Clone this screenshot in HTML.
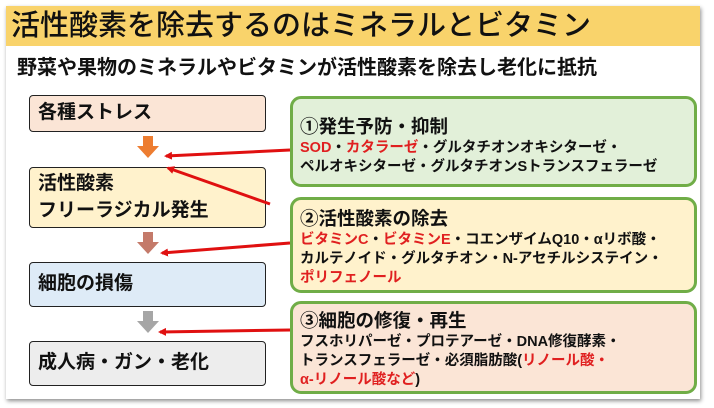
<!DOCTYPE html><html><head><meta charset="utf-8"><style>
*{margin:0;padding:0;box-sizing:border-box}
body{width:714px;height:408px;background:#fff;position:relative;overflow:hidden;font-family:"Liberation Sans","Noto Sans CJK JP",sans-serif;color:#111}
.slide{position:absolute;left:6px;top:6px;width:694px;height:393px;background:#fff;box-shadow:1px 2px 4px rgba(0,0,0,.45)}
.title{position:absolute;left:6px;top:6px;width:694px;height:40px;background:#f9d36b;font-size:29px;line-height:40px;padding-left:5px;font-weight:500;white-space:nowrap}
.sub{position:absolute;left:17px;top:55px;font-size:20px;font-weight:bold;line-height:26px;white-space:nowrap}
.lb{position:absolute;left:29px;width:237px;border:1.5px solid #222;border-radius:4px;font-size:19px;font-weight:bold;padding-left:8px;white-space:nowrap}
.rb{position:absolute;left:290px;width:407px;border:3px solid #70ad47;border-radius:11px;padding:6px 0 0 7px}
.rb h3{font-size:18.5px;line-height:24px;white-space:nowrap}
.rb p{font-size:14.5px;font-weight:bold;line-height:19px;white-space:nowrap}
.r{color:#e02020}
.dn{position:absolute;left:137px;width:22px;height:22px}
</style></head><body>
<div class="slide"></div>
<div class="title">活性酸素を除去するのはミネラルとビタミン</div>
<div class="sub">野菜や果物のミネラルやビタミンが活性酸素を除去し老化に抵抗</div>
<div class="lb" style="top:95px;height:37px;background:#fbe5d6;line-height:34px">各種ストレス</div>
<div class="lb" style="top:167px;height:61px;background:#fff2cc;line-height:27px;padding-top:2px">活性酸素<br>フリーラジカル発生</div>
<div class="lb" style="top:262px;height:45px;background:#deebf7;line-height:42px">細胞の損傷</div>
<div class="lb" style="top:341px;height:45px;background:#ededed;line-height:42px">成人病・ガン・老化</div>
<svg class="dn" style="top:136px" viewBox="0 0 22 22"><polygon points="6,0 16,0 16,10 22,10 11,22 0,10 6,10" fill="#ed7d31"/></svg>
<svg class="dn" style="top:232px" viewBox="0 0 22 22"><polygon points="6,0 16,0 16,10 22,10 11,22 0,10 6,10" fill="#c47a6a"/></svg>
<svg class="dn" style="top:311px" viewBox="0 0 22 22"><polygon points="6,0 16,0 16,10 22,10 11,22 0,10 6,10" fill="#a6a6a6"/></svg>
<div class="rb" style="top:96px;height:91px;background:#e2f0d9;padding-top:16px"><h3>①発生予防・抑制</h3><p><span class="r">SOD</span>・<span class="r">カタラーゼ</span>・グルタチオンオキシターゼ・<br>ペルオキシターゼ・グルタチオンSトランスフェラーゼ</p></div>
<div class="rb" style="top:197px;height:96px;background:#fff2cc;padding-top:7px"><h3>②活性酸素の除去</h3><p><span class="r">ビタミンC</span>・<span class="r">ビタミンE</span>・コエンザイムQ10・αリボ酸・<br>カルテノイド・グルタチオン・N-アセチルシステイン・<br><span class="r">ポリフェノール</span></p></div>
<div class="rb" style="top:301px;height:93px;background:#fbe5d6;padding-top:5px"><h3>③細胞の修復・再生</h3><p>フスホリパーゼ・プロテアーゼ・DNA修復酵素・<br>トランスフェラーゼ・必須脂肪酸(<span class="r">リノール酸・<br>α-リノール酸など</span>)</p></div>
<svg style="position:absolute;left:0;top:0" width="714" height="408">
<defs><marker id="a" markerWidth="8" markerHeight="8" refX="6" refY="4" orient="auto" markerUnits="userSpaceOnUse"><polygon points="0,0 8,4 0,8" fill="#e01010"/></marker></defs>
<g stroke="#e01010" stroke-width="3" fill="none" marker-end="url(#a)">
<line x1="290" y1="150" x2="166" y2="156"/>
<line x1="270" y1="204" x2="168" y2="168"/>
<line x1="290" y1="243" x2="162" y2="253"/>
<line x1="290" y1="330" x2="160" y2="332"/>
</g></svg>
</body></html>
